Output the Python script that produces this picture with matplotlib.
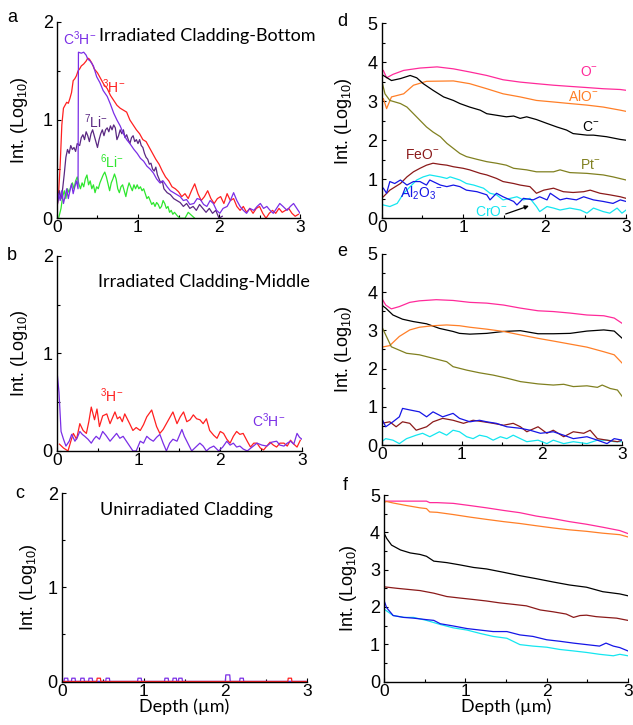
import numpy as np
import matplotlib
matplotlib.use("Agg")
import matplotlib.pyplot as plt

plt.rcParams['font.family'] = ['Liberation Sans', 'DejaVu Sans']
plt.rcParams['mathtext.fontset'] = 'custom'
plt.rcParams['mathtext.rm'] = 'Liberation Sans'
plt.rcParams['mathtext.it'] = 'Liberation Sans:italic'

# colours
RED = '#ff2020'
VIOLET = '#7a2ee6'
DPURPLE = '#5a2882'
GREEN = '#2ee62e'
PINK = '#ff2a9a'
ORANGE = '#ff7f27'
OLIVE = '#808020'
BROWN = '#8b1a1a'
BLUE = '#1515e6'
CYAN = '#14e6f0'

# ---------------- panel a : irradiated cladding, bottom ----------------
a_H_x = [0.00, 0.02, 0.04, 0.06, 0.08, 0.10, 0.12, 0.14, 0.16, 0.18, 0.20, 0.22, 0.24, 0.26, 0.28,
         0.30, 0.33, 0.36, 0.38, 0.40, 0.43, 0.46, 0.50, 0.54, 0.58, 0.62, 0.66, 0.70, 0.74, 0.78,
         0.82, 0.86, 0.90, 0.94, 0.98, 1.02, 1.06, 1.10, 1.14, 1.18, 1.22, 1.26, 1.30, 1.34, 1.38,
         1.42, 1.46, 1.50, 1.54, 1.58, 1.62, 1.66, 1.70, 1.74, 1.78, 1.82, 1.86, 1.90, 1.94, 1.98,
         2.02, 2.06, 2.10, 2.14, 2.18, 2.22, 2.26, 2.30, 2.34, 2.38, 2.42, 2.46, 2.50, 2.54, 2.58,
         2.62, 2.66, 2.70, 2.74, 2.78, 2.82, 2.86, 2.90, 2.94, 2.98]
a_H_y = [0.10, 0.25, 0.55, 0.95, 1.12, 1.15, 1.18, 1.17, 1.22, 1.28, 1.40, 1.42, 1.45, 1.50, 1.52,
         1.55, 1.57, 1.60, 1.63, 1.62, 1.58, 1.52, 1.48, 1.42, 1.36, 1.32, 1.25, 1.20, 1.15, 1.12,
         1.10, 1.08, 1.00, 0.95, 0.90, 0.86, 0.80, 0.78, 0.72, 0.66, 0.60, 0.55, 0.48, 0.42, 0.38,
         0.32, 0.30, 0.27, 0.22, 0.25, 0.20, 0.28, 0.35, 0.25, 0.18, 0.22, 0.28, 0.20, 0.15, 0.20,
         0.22, 0.15, 0.25, 0.18, 0.20, 0.12, 0.08, 0.12, 0.06, 0.10, 0.05, 0.10, 0.12, 0.05, 0.00,
         0.05, 0.08, 0.05, 0.10, 0.06, 0.08, 0.10, 0.05, 0.02, 0.04]

a_CH_x = [0.00, 0.02, 0.04, 0.06, 0.08, 0.10, 0.12, 0.14, 0.16, 0.18, 0.20, 0.22, 0.24, 0.26, 0.265,
          0.30, 0.33, 0.36, 0.38, 0.41, 0.45, 0.49, 0.53, 0.57, 0.62, 0.66, 0.70, 0.74, 0.78, 0.82,
          0.86, 0.90, 0.95, 0.99, 1.03, 1.07, 1.11, 1.15, 1.19, 1.23, 1.27, 1.31, 1.36, 1.40, 1.44,
          1.48, 1.52, 1.56, 1.60, 1.64, 1.69, 1.73, 1.77, 1.81, 1.85, 1.89, 1.93, 1.97, 2.01, 2.05,
          2.10, 2.14, 2.18, 2.22, 2.26, 2.30, 2.34, 2.38, 2.43, 2.47, 2.51, 2.55, 2.59, 2.63, 2.67,
          2.71, 2.75, 2.79, 2.84, 2.88, 2.92, 2.96, 3.00]
a_CH_y = [0.10, 0.25, 0.18, 0.28, 0.15, 0.22, 0.30, 0.20, 0.28, 0.35, 0.25, 0.32, 0.38, 0.30, 1.69,
          1.68, 1.69, 1.66, 1.62, 1.60, 1.55, 1.44, 1.38, 1.30, 1.24, 1.16, 1.07, 1.00, 0.94, 0.86,
          0.80, 0.76, 0.70, 0.66, 0.61, 0.58, 0.53, 0.50, 0.46, 0.40, 0.36, 0.38, 0.32, 0.28, 0.26,
          0.24, 0.22, 0.18, 0.19, 0.14, 0.15, 0.20, 0.19, 0.14, 0.12, 0.18, 0.15, 0.08, 0.05, 0.10,
          0.12, 0.18, 0.26, 0.18, 0.12, 0.08, 0.05, 0.10, 0.08, 0.12, 0.15, 0.10, 0.12, 0.08, 0.05,
          0.10, 0.15, 0.12, 0.08, 0.12, 0.15, 0.10, 0.05]

a_Li7_x = [0.00, 0.03, 0.05, 0.07, 0.09, 0.11, 0.13, 0.15, 0.17, 0.19, 0.21, 0.23, 0.25, 0.28, 0.30,
           0.32, 0.34, 0.36, 0.38, 0.40, 0.42, 0.44, 0.46, 0.48, 0.50, 0.52, 0.54, 0.56, 0.58, 0.60,
           0.62, 0.64, 0.66, 0.68, 0.70, 0.72, 0.74, 0.76, 0.78, 0.80, 0.82, 0.84, 0.86, 0.88, 0.90,
           0.92, 0.94, 0.96, 0.98, 1.00, 1.02, 1.04, 1.06, 1.08, 1.10, 1.12, 1.14, 1.16, 1.18, 1.20,
           1.22, 1.24, 1.26, 1.28, 1.30, 1.32, 1.34, 1.36, 1.40, 1.44, 1.48, 1.52, 1.56, 1.60, 1.64,
           1.68, 1.72, 1.76, 1.80, 1.84, 1.88, 1.92, 1.96, 2.00, 2.04]
a_Li7_y = [0.12, 0.28, 0.20, 0.30, 0.45, 0.62, 0.70, 0.66, 0.74, 0.70, 0.72, 0.68, 0.76, 0.74, 0.82,
           0.85, 0.80, 0.88, 0.84, 0.78, 0.86, 0.90, 0.84, 0.78, 0.72, 0.80, 0.86, 0.90, 0.84, 0.90,
           0.92, 0.88, 0.94, 0.90, 0.95, 0.92, 0.80, 0.84, 0.90, 0.86, 0.90, 0.82, 0.85, 0.80, 0.76,
           0.82, 0.84, 0.78, 0.80, 0.76, 0.80, 0.74, 0.72, 0.66, 0.62, 0.60, 0.55, 0.56, 0.50, 0.48,
           0.52, 0.44, 0.40, 0.36, 0.38, 0.30, 0.28, 0.26, 0.24, 0.20, 0.18, 0.16, 0.12, 0.15, 0.10,
           0.12, 0.08, 0.14, 0.10, 0.06, 0.10, 0.05, 0.08, 0.00, 0.02]

a_Li6_x = [0.02, 0.05, 0.07, 0.09, 0.11, 0.13, 0.15, 0.17, 0.19, 0.21, 0.23, 0.25, 0.27, 0.29, 0.31,
           0.33, 0.35, 0.37, 0.39, 0.41, 0.43, 0.45, 0.47, 0.49, 0.51, 0.53, 0.55, 0.57, 0.59, 0.61,
           0.63, 0.65, 0.67, 0.69, 0.71, 0.73, 0.75, 0.77, 0.79, 0.81, 0.83, 0.85, 0.87, 0.89, 0.91,
           0.93, 0.95, 0.97, 0.99, 1.01, 1.03, 1.05, 1.07, 1.09, 1.11, 1.13, 1.15, 1.17, 1.19, 1.21,
           1.23, 1.25, 1.27, 1.29, 1.31, 1.33, 1.35, 1.37, 1.39, 1.41, 1.43, 1.45, 1.49, 1.52, 1.58,
           1.62, 1.66, 1.70]
a_Li6_y = [0.00, 0.10, 0.22, 0.28, 0.20, 0.30, 0.26, 0.32, 0.36, 0.30, 0.38, 0.42, 0.35, 0.30, 0.36,
           0.32, 0.40, 0.44, 0.34, 0.38, 0.30, 0.34, 0.26, 0.32, 0.30, 0.36, 0.40, 0.44, 0.47, 0.42,
           0.35, 0.28, 0.36, 0.40, 0.45, 0.40, 0.30, 0.26, 0.32, 0.34, 0.28, 0.22, 0.30, 0.36, 0.32,
           0.28, 0.34, 0.30, 0.34, 0.30, 0.32, 0.28, 0.30, 0.25, 0.20, 0.22, 0.18, 0.14, 0.16, 0.12,
           0.16, 0.14, 0.10, 0.12, 0.18, 0.15, 0.10, 0.12, 0.06, 0.08, 0.04, 0.06, 0.02, 0.00, 0.00,
           0.06, 0.03, 0.00]

# ---------------- panel b : irradiated cladding, middle ----------------
b_H_x = [0.03, 0.08, 0.135, 0.17, 0.20, 0.24, 0.28, 0.32, 0.36, 0.39, 0.42, 0.46, 0.49, 0.52, 0.56,
         0.61, 0.65, 0.71, 0.74, 0.77, 0.80, 0.83, 0.89, 0.93, 0.97, 1.02, 1.06, 1.10, 1.16, 1.22,
         1.26, 1.30, 1.34, 1.38, 1.42, 1.47, 1.51, 1.55, 1.59, 1.63, 1.67, 1.71, 1.75, 1.79, 1.83,
         1.87, 1.92, 1.96, 2.00, 2.04, 2.08, 2.12, 2.16, 2.20, 2.24, 2.28, 2.33, 2.37, 2.41, 2.45,
         2.49, 2.53, 2.57, 2.61, 2.65, 2.69, 2.73, 2.78, 2.82, 2.86, 2.90, 2.94, 2.98]
b_H_y = [0.07, 0.03, 0.00, 0.10, 0.18, 0.12, 0.28, 0.21, 0.18, 0.30, 0.45, 0.32, 0.43, 0.25, 0.36,
         0.38, 0.28, 0.40, 0.33, 0.35, 0.30, 0.38, 0.28, 0.21, 0.24, 0.21, 0.27, 0.35, 0.42, 0.25,
         0.18, 0.22, 0.28, 0.34, 0.40, 0.28, 0.35, 0.40, 0.30, 0.32, 0.37, 0.33, 0.32, 0.28, 0.33,
         0.21, 0.16, 0.13, 0.20, 0.18, 0.12, 0.08, 0.15, 0.20, 0.17, 0.18, 0.10, 0.04, 0.08, 0.08,
         0.03, 0.01, 0.05, 0.09, 0.06, 0.04, 0.08, 0.08, 0.05, 0.11, 0.07, 0.04, 0.11]

b_CH_x = [0.00, 0.025, 0.05, 0.08, 0.11, 0.15, 0.18, 0.22, 0.25, 0.28, 0.31, 0.34, 0.38, 0.42, 0.45,
          0.48, 0.52, 0.56, 0.60, 0.65, 0.69, 0.73, 0.77, 0.81, 0.85, 0.89, 0.93, 0.97, 1.02, 1.06,
          1.10, 1.14, 1.18, 1.22, 1.26, 1.30, 1.34, 1.38, 1.42, 1.47, 1.50, 1.53, 1.56, 1.59, 1.65,
          1.70, 1.75, 1.79, 1.83, 1.87, 1.92, 1.98, 2.03, 2.08, 2.12, 2.16, 2.20, 2.24, 2.28, 2.33,
          2.39, 2.45, 2.51, 2.57, 2.63, 2.69, 2.73, 2.78, 2.82, 2.86, 2.90, 2.94, 2.97, 3.00]
b_CH_y = [0.82, 0.60, 0.20, 0.12, 0.05, 0.10, 0.17, 0.10, 0.14, 0.20, 0.17, 0.15, 0.12, 0.08, 0.12,
          0.15, 0.12, 0.20, 0.16, 0.10, 0.14, 0.18, 0.13, 0.15, 0.10, 0.05, 0.00, 0.00, 0.10, 0.08,
          0.15, 0.12, 0.10, 0.14, 0.17, 0.08, 0.00, 0.08, 0.12, 0.10, 0.16, 0.22, 0.15, 0.10, 0.00,
          0.04, 0.08, 0.05, 0.00, 0.03, 0.05, 0.00, 0.04, 0.10, 0.06, 0.08, 0.04, 0.05, 0.02, 0.00,
          0.04, 0.08, 0.06, 0.05, 0.09, 0.10, 0.06, 0.05, 0.08, 0.10, 0.07, 0.18, 0.14, 0.12]

# ---------------- panel c : unirradiated cladding (single-count pulses) ----------------
c_violet_pulses = [0.05, 0.14, 0.25, 0.35, 0.56, 0.95, 1.28, 1.38, 1.45, 2.20]
c_violet_peak = [2.03]
c_red_pulses = [0.45, 2.79]
pulse_h = 0.035

# ---------------- panel d ----------------
d_O_x = [0.00, 0.02, 0.06, 0.14, 0.27, 0.47, 0.68, 0.88, 1.08, 1.29, 1.49, 1.70, 1.90, 2.11, 2.31, 2.52, 2.72, 2.93, 3.00]
d_O_y = [3.80, 3.79, 3.60, 3.69, 3.79, 3.85, 3.88, 3.83, 3.75, 3.66, 3.55, 3.49, 3.45, 3.41, 3.38, 3.35, 3.32, 3.30, 3.28]
d_AlO_x = [0.00, 0.02, 0.06, 0.12, 0.27, 0.39, 0.55, 0.88, 1.08, 1.29, 1.49, 1.70, 1.90, 2.11, 2.31, 2.52, 2.72, 2.93, 3.00]
d_AlO_y = [3.00, 3.07, 2.81, 3.11, 3.19, 3.41, 3.51, 3.52, 3.45, 3.32, 3.19, 3.11, 3.02, 2.98, 2.94, 2.90, 2.85, 2.77, 2.74]
d_C_x = [0.02, 0.12, 0.23, 0.35, 0.43, 0.51, 0.63, 0.76, 0.88, 0.96, 1.08, 1.21, 1.29, 1.41, 1.53, 1.62,
         1.70, 1.78, 1.90, 2.03, 2.15, 2.27, 2.35, 2.52, 2.60, 2.76, 2.93, 3.00]
d_C_y = [3.66, 3.53, 3.58, 3.66, 3.60, 3.45, 3.28, 3.11, 3.02, 2.94, 2.85, 2.77, 2.68, 2.64, 2.60, 2.62,
         2.56, 2.60, 2.53, 2.43, 2.34, 2.26, 2.17, 2.13, 2.13, 2.09, 2.02, 2.00]
d_Pt_x = [0.01, 0.04, 0.10, 0.23, 0.31, 0.39, 0.47, 0.55, 0.63, 0.72, 0.80, 0.88, 0.96, 1.04, 1.17, 1.29,
          1.41, 1.53, 1.62, 1.78, 1.90, 2.11, 2.19, 2.31, 2.52, 2.72, 2.84, 3.00]
d_Pt_y = [3.45, 3.19, 3.02, 2.94, 2.85, 2.68, 2.51, 2.34, 2.21, 2.09, 1.92, 1.79, 1.66, 1.58, 1.51, 1.45,
          1.41, 1.36, 1.28, 1.24, 1.19, 1.19, 1.24, 1.17, 1.15, 1.11, 1.06, 0.98]
d_FeO_x = [0.02, 0.10, 0.23, 0.31, 0.39, 0.47, 0.55, 0.63, 0.72, 0.80, 0.88, 1.00, 1.08, 1.21, 1.29, 1.41,
           1.49, 1.62, 1.70, 1.82, 1.90, 1.99, 2.11, 2.23, 2.35, 2.48, 2.56, 2.68, 2.80, 2.93, 3.00]
d_FeO_y = [0.55, 0.72, 0.89, 1.06, 1.19, 1.28, 1.36, 1.41, 1.38, 1.36, 1.32, 1.28, 1.24, 1.15, 1.11, 1.02,
           0.94, 0.89, 0.85, 0.81, 0.64, 0.72, 0.77, 0.68, 0.66, 0.68, 0.72, 0.64, 0.60, 0.55, 0.51]
d_Al2O3_x = [0.02, 0.06, 0.10, 0.16, 0.23, 0.31, 0.39, 0.47, 0.55, 0.59, 0.72, 0.80, 0.88, 0.96, 1.04, 1.17,
             1.29, 1.33, 1.41, 1.49, 1.62, 1.66, 1.74, 1.86, 1.94, 2.03, 2.07, 2.19, 2.27, 2.39, 2.48, 2.60,
             2.72, 2.84, 2.93, 3.00]
d_Al2O3_y = [0.77, 0.64, 0.94, 0.89, 0.98, 0.85, 0.94, 0.94, 0.85, 0.98, 0.85, 0.81, 0.85, 0.81, 0.72, 0.68,
             0.60, 0.47, 0.64, 0.55, 0.43, 0.34, 0.51, 0.47, 0.55, 0.47, 0.64, 0.47, 0.51, 0.47, 0.55, 0.47,
             0.43, 0.38, 0.47, 0.43]
d_CrO_x = [0.02, 0.10, 0.19, 0.27, 0.35, 0.43, 0.51, 0.59, 0.72, 0.80, 0.84, 0.96, 1.04, 1.13, 1.25, 1.33,
           1.41, 1.49, 1.58, 1.66, 1.74, 1.82, 1.90, 1.94, 2.03, 2.11, 2.19, 2.31, 2.44, 2.52, 2.60, 2.72,
           2.80, 2.89, 2.95, 3.00]
d_CrO_y = [0.34, 0.30, 0.38, 0.64, 0.81, 0.98, 1.06, 1.11, 1.06, 1.02, 1.06, 0.98, 0.89, 0.85, 0.77, 0.64,
           0.60, 0.47, 0.51, 0.55, 0.47, 0.51, 0.30, 0.17, 0.30, 0.26, 0.21, 0.26, 0.21, 0.13, 0.26, 0.17,
           0.13, 0.26, 0.13, 0.21]

# ---------------- panel e ----------------
e_O_x = [0.00, 0.05, 0.12, 0.22, 0.35, 0.47, 0.68, 0.89, 1.10, 1.31, 1.52, 1.73, 1.95, 2.14, 2.35, 2.56, 2.77, 2.90, 3.00]
e_O_y = [3.84, 3.66, 3.56, 3.62, 3.73, 3.77, 3.80, 3.78, 3.73, 3.71, 3.66, 3.58, 3.51, 3.49, 3.45, 3.40, 3.38, 3.32, 3.18]
e_C_x = [0.00, 0.05, 0.14, 0.26, 0.39, 0.56, 0.72, 0.89, 0.97, 1.10, 1.31, 1.52, 1.73, 1.95, 2.14, 2.35, 2.56, 2.77, 2.90, 3.00]
e_C_y = [3.66, 3.58, 3.40, 3.29, 3.23, 3.17, 3.05, 2.97, 2.92, 2.90, 2.92, 2.97, 2.99, 2.91, 2.91, 2.92, 2.98, 3.01, 2.98, 2.79]
e_AlO_x = [0.00, 0.10, 0.22, 0.35, 0.47, 0.64, 0.81, 0.97, 1.10, 1.31, 1.52, 1.73, 1.95, 2.14, 2.35, 2.56, 2.77, 2.90, 3.00]
e_AlO_y = [2.56, 2.60, 2.84, 3.01, 3.08, 3.12, 3.14, 3.12, 3.08, 3.03, 2.97, 2.88, 2.79, 2.72, 2.64, 2.56, 2.44, 2.36, 2.14]
e_Pt_x = [0.00, 0.12, 0.31, 0.47, 0.64, 0.81, 0.89, 1.06, 1.22, 1.39, 1.56, 1.73, 1.95, 2.14, 2.27, 2.39,
          2.56, 2.69, 2.75, 2.85, 2.94, 3.00]
e_Pt_y = [3.10, 2.57, 2.40, 2.36, 2.27, 2.18, 2.05, 1.96, 1.89, 1.83, 1.75, 1.66, 1.60, 1.57, 1.59, 1.53,
          1.55, 1.51, 1.57, 1.48, 1.44, 1.27]
e_Al2O3_x = [0.00, 0.05, 0.14, 0.22, 0.26, 0.35, 0.47, 0.56, 0.64, 0.76, 0.89, 0.97, 1.10, 1.22, 1.31, 1.43,
             1.56, 1.73, 1.85, 1.98, 2.14, 2.27, 2.39, 2.56, 2.69, 2.81, 2.90, 3.00]
e_Al2O3_y = [0.70, 0.48, 0.61, 0.74, 0.96, 0.92, 0.87, 0.74, 0.87, 0.74, 0.83, 0.70, 0.61, 0.65, 0.61, 0.57,
             0.48, 0.44, 0.39, 0.31, 0.35, 0.26, 0.17, 0.22, 0.13, 0.04, 0.17, 0.13]
e_FeO_x = [0.00, 0.10, 0.18, 0.26, 0.35, 0.43, 0.56, 0.64, 0.76, 0.89, 1.02, 1.14, 1.27, 1.39, 1.52, 1.64,
           1.73, 1.81, 1.95, 2.06, 2.14, 2.27, 2.39, 2.52, 2.60, 2.69, 2.81, 2.94, 3.00]
e_FeO_y = [0.57, 0.61, 0.48, 0.61, 0.57, 0.39, 0.48, 0.61, 0.70, 0.65, 0.57, 0.65, 0.61, 0.57, 0.52, 0.57,
           0.48, 0.35, 0.48, 0.31, 0.39, 0.22, 0.35, 0.31, 0.39, 0.17, 0.13, 0.09, 0.13]
e_CrO_x = [0.00, 0.05, 0.14, 0.22, 0.31, 0.43, 0.51, 0.60, 0.72, 0.81, 0.89, 0.97, 1.06, 1.14, 1.22, 1.31,
           1.39, 1.48, 1.56, 1.64, 1.73, 1.81, 1.95, 2.06, 2.14, 2.27, 2.39, 2.56, 2.69, 2.81, 2.90, 3.00]
e_CrO_y = [0.09, 0.17, 0.13, 0.04, 0.17, 0.26, 0.31, 0.22, 0.35, 0.26, 0.39, 0.35, 0.22, 0.17, 0.26, 0.22,
           0.13, 0.22, 0.17, 0.26, 0.17, 0.09, 0.13, 0.04, 0.13, 0.04, 0.09, 0.04, 0.13, 0.13, 0.09, 0.09]

# ---------------- panel f ----------------
f_O_x = [0.00, 0.52, 0.56, 0.65, 0.85, 1.06, 1.26, 1.47, 1.67, 1.87, 2.08, 2.28, 2.49, 2.69, 2.90, 3.00]
f_O_y = [4.84, 4.84, 4.80, 4.80, 4.78, 4.72, 4.66, 4.59, 4.53, 4.44, 4.37, 4.29, 4.22, 4.14, 4.05, 3.97]
f_AlO_x = [0.00, 0.03, 0.11, 0.28, 0.44, 0.52, 0.56, 0.65, 0.85, 1.06, 1.26, 1.47, 1.67, 1.87, 2.08, 2.28,
           2.49, 2.69, 2.90, 3.00]
f_AlO_y = [4.81, 4.83, 4.79, 4.72, 4.66, 4.64, 4.55, 4.54, 4.48, 4.41, 4.35, 4.29, 4.24, 4.18, 4.12, 4.07,
           4.03, 3.98, 3.94, 3.88]
f_C_x = [0.00, 0.03, 0.09, 0.20, 0.32, 0.44, 0.52, 0.61, 0.77, 0.93, 1.10, 1.26, 1.47, 1.67, 1.87, 2.08,
         2.28, 2.49, 2.69, 2.90, 3.00]
f_C_y = [3.97, 3.84, 3.66, 3.53, 3.45, 3.41, 3.36, 3.23, 3.19, 3.13, 3.06, 3.02, 2.93, 2.84, 2.76, 2.67,
         2.59, 2.53, 2.41, 2.35, 2.30]
f_FeO_x = [0.00, 0.16, 0.44, 0.61, 0.77, 0.93, 1.10, 1.26, 1.42, 1.59, 1.75, 1.92, 2.08, 2.24, 2.33, 2.41,
           2.49, 2.61, 2.73, 2.86, 3.00]
f_FeO_y = [2.54, 2.50, 2.44, 2.37, 2.28, 2.24, 2.20, 2.16, 2.11, 2.07, 2.03, 1.92, 1.87, 1.81, 1.72, 1.77,
           1.78, 1.74, 1.72, 1.70, 1.64]
f_Al2O3_x = [0.00, 0.03, 0.11, 0.24, 0.36, 0.52, 0.61, 0.69, 0.85, 1.02, 1.18, 1.34, 1.51, 1.67, 1.83, 2.00,
             2.16, 2.33, 2.49, 2.65, 2.73, 2.82, 2.90, 3.00]
f_Al2O3_y = [2.16, 1.98, 1.77, 1.72, 1.70, 1.66, 1.64, 1.55, 1.49, 1.42, 1.38, 1.34, 1.34, 1.25, 1.21, 1.12,
             1.08, 1.03, 0.99, 0.95, 1.03, 0.95, 0.91, 0.82]
f_CrO_x = [0.00, 0.11, 0.24, 0.36, 0.52, 0.69, 0.85, 1.02, 1.18, 1.34, 1.51, 1.67, 1.83, 2.00, 2.16, 2.33,
           2.49, 2.65, 2.82, 2.90, 3.00]
f_CrO_y = [1.94, 1.77, 1.72, 1.72, 1.64, 1.53, 1.44, 1.38, 1.29, 1.21, 1.16, 0.99, 0.95, 0.92, 0.86, 0.82,
           0.78, 0.73, 0.69, 0.73, 0.69]

YLABEL = r'Int. (Log$_{\mathregular{10}}$)'
TITLE_FONT = ['Lato', 'DejaVu Sans']


def style(ax, ymax, xlabel=False, ypad=7):
    ax.set_xlim(0, 3)
    ax.set_ylim(0, ymax)
    ax.set_xticks([0, 1, 2, 3])
    ax.set_xticks([0.5, 1.5, 2.5], minor=True)
    ax.set_yticks(range(0, ymax + 1))
    ax.set_yticks(np.arange(0.5, ymax, 1.0), minor=True)
    for s in ['top', 'right']:
        ax.spines[s].set_visible(False)
    for s in ['left', 'bottom']:
        ax.spines[s].set_linewidth(1.0)
    ax.tick_params(which='both', direction='in', length=3, width=0.8, labelsize=13)
    ax.tick_params(axis='x', pad=1.5, labelsize=12.5)
    ax.tick_params(axis='y', pad=3)
    ax.tick_params(which='minor', length=2)
    ax.set_ylabel(YLABEL, fontsize=13, labelpad=ypad)
    if xlabel:
        ax.set_xlabel('Depth (\u00b5m)', fontsize=13, family=TITLE_FONT, labelpad=0)


def pulse_line(centers, h, w=0.025):
    xs, ys = [0.0], [0.0]
    for p in centers:
        xs += [p - w, p - w * 0.8, p + w * 0.8, p + w]
        ys += [0.0, h, h, 0.0]
    xs.append(3.0)
    ys.append(0.0)
    return xs, ys


fig = plt.figure(figsize=(6.33, 7.25), dpi=100)
ax_a = fig.add_axes([0.090, 0.699, 0.384, 0.271])
ax_b = fig.add_axes([0.090, 0.378, 0.387, 0.269])
ax_c = fig.add_axes([0.098, 0.060, 0.387, 0.260])
ax_d = fig.add_axes([0.603, 0.699, 0.386, 0.269])
ax_e = fig.add_axes([0.603, 0.386, 0.380, 0.264])
ax_f = fig.add_axes([0.607, 0.060, 0.385, 0.257])

lw = 0.9

# a
ax_a.plot(a_Li6_x, a_Li6_y, color=GREEN, lw=lw)
ax_a.plot(a_H_x, a_H_y, color=RED, lw=lw)
ax_a.plot(a_Li7_x, a_Li7_y, color=DPURPLE, lw=lw)
ax_a.plot(a_CH_x, a_CH_y, color=VIOLET, lw=lw)
style(ax_a, 2, ypad=9)
ax_a.text(0.07, 1.83, r'C$^{\mathregular{3}}$H$^{\mathregular{-}}$', color=VIOLET, fontsize=10, va='center')
ax_a.text(0.55, 1.34, r'$^{\mathregular{3}}$H$^{\mathregular{-}}$', color=RED, fontsize=10, va='center')
ax_a.text(0.33, 0.98, r'$^{\mathregular{7}}$Li$^{\mathregular{-}}$', color=DPURPLE, fontsize=10, va='center')
ax_a.text(0.53, 0.58, r'$^{\mathregular{6}}$Li$^{\mathregular{-}}$', color=GREEN, fontsize=10, va='center')
ax_a.text(0.52, 1.86, 'Irradiated Cladding-Bottom', family=TITLE_FONT, fontsize=13, va='center')

# b
ax_b.plot(b_H_x, b_H_y, color=RED, lw=lw)
ax_b.plot(b_CH_x, b_CH_y, color=VIOLET, lw=lw)
style(ax_b, 2, ypad=9)
ax_b.text(0.53, 0.57, r'$^{\mathregular{3}}$H$^{\mathregular{-}}$', color=RED, fontsize=10, va='center')
ax_b.text(2.39, 0.31, r'C$^{\mathregular{3}}$H$^{\mathregular{-}}$', color=VIOLET, fontsize=10, va='center')
ax_b.text(0.50, 1.73, 'Irradiated Cladding-Middle', family=TITLE_FONT, fontsize=13, va='center')

# c
vx, vy = pulse_line(c_violet_pulses, pulse_h)
ax_c.plot(vx, vy, color=VIOLET, lw=lw)
px, py = pulse_line(c_violet_peak, 2 * pulse_h, w=0.03)
ax_c.plot(px, py, color=VIOLET, lw=lw)
rx, ry = pulse_line(c_red_pulses, pulse_h)
ax_c.plot(rx, ry, color=RED, lw=lw)
style(ax_c, 2, xlabel=True, ypad=6)
ax_c.text(0.47, 1.82, 'Unirradiated Cladding', family=TITLE_FONT, fontsize=13, va='center')

# d
for (x, y, c) in [(d_O_x, d_O_y, PINK), (d_AlO_x, d_AlO_y, ORANGE), (d_C_x, d_C_y, 'black'),
                  (d_Pt_x, d_Pt_y, OLIVE), (d_FeO_x, d_FeO_y, BROWN), (d_CrO_x, d_CrO_y, CYAN),
                  (d_Al2O3_x, d_Al2O3_y, BLUE)]:
    ax_d.plot(x, y, color=c, lw=lw)
style(ax_d, 5, ypad=10)
ax_d.text(2.44, 3.75, r'O$^{\mathregular{-}}$', color=PINK, fontsize=10, va='center')
ax_d.text(2.29, 3.11, r'AlO$^{\mathregular{-}}$', color=ORANGE, fontsize=10, va='center')
ax_d.text(2.46, 2.34, r'C$^{\mathregular{-}}$', color='black', fontsize=10, va='center')
ax_d.text(2.44, 1.36, r'Pt$^{\mathregular{-}}$', color=OLIVE, fontsize=10, va='center')
ax_d.text(0.29, 1.62, r'FeO$^{\mathregular{-}}$', color=BROWN, fontsize=10, va='center')
ax_d.text(0.23, 0.64, r'Al$_{\mathregular{2}}$O$_{\mathregular{3}}$$^{\mathregular{-}}$', color=BLUE, fontsize=10, va='center')
ax_d.text(1.15, 0.17, r'CrO$^{\mathregular{-}}$', color=CYAN, fontsize=10, va='center')
ax_d.annotate('', xy=(1.84, 0.34), xytext=(1.49, 0.085),
              arrowprops=dict(arrowstyle='-|>', color='black', lw=0.9, mutation_scale=6))

# e
for (x, y, c) in [(e_O_x, e_O_y, PINK), (e_C_x, e_C_y, 'black'), (e_AlO_x, e_AlO_y, ORANGE),
                  (e_Pt_x, e_Pt_y, OLIVE), (e_CrO_x, e_CrO_y, CYAN), (e_FeO_x, e_FeO_y, BROWN),
                  (e_Al2O3_x, e_Al2O3_y, BLUE)]:
    ax_e.plot(x, y, color=c, lw=lw)
style(ax_e, 5, ypad=10)

# f
for (x, y, c) in [(f_O_x, f_O_y, PINK), (f_AlO_x, f_AlO_y, ORANGE), (f_C_x, f_C_y, 'black'),
                  (f_FeO_x, f_FeO_y, BROWN), (f_CrO_x, f_CrO_y, CYAN), (f_Al2O3_x, f_Al2O3_y, BLUE)]:
    ax_f.plot(x, y, color=c, lw=lw)
style(ax_f, 5, xlabel=True, ypad=8)

# panel letters
for lab, (x, y) in zip('abcdef', [(12, 18), (12, 256), (20, 493), (342, 22), (342, 252), (345, 485)]):
    fig.text(x / 633, 1 - y / 725, lab, fontsize=13, va='center', ha='center')

fig.savefig('out.png', dpi=100)
